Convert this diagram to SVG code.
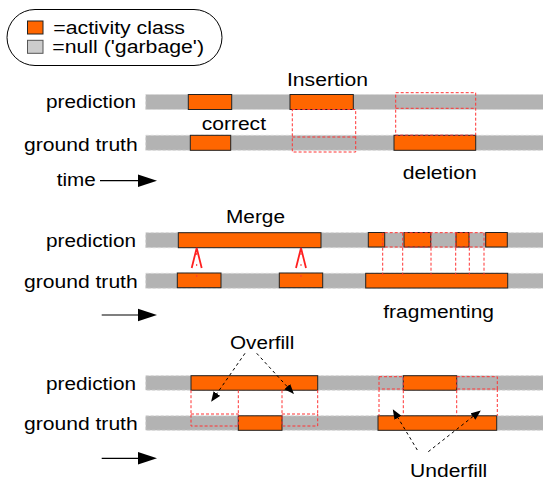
<svg xmlns="http://www.w3.org/2000/svg" width="543" height="481" viewBox="0 0 543 481">
<defs>
<style>
text{font-family:"Liberation Sans",Arial,sans-serif;font-size:17.5px;fill:#000}
.bar{fill:#b3b3b3;stroke:#d6d6d6;stroke-width:1;stroke-dasharray:3,2}
.act{fill:#ff6600;stroke:#222;stroke-width:1}
.red{fill:none;stroke:#ff3333;stroke-width:1;stroke-dasharray:3,2}
.stem{fill:none;stroke:#ff3333;stroke-width:1;stroke-dasharray:2,9}
.ax{stroke:#000;stroke-width:1.2;fill:none}
.dash{stroke:#000;stroke-width:1;stroke-dasharray:3,3;fill:none}
.merge{stroke:#ff2020;stroke-width:1.8;fill:none}
</style>
<marker id="ah" markerUnits="userSpaceOnUse" markerWidth="10" markerHeight="8" refX="9" refY="4" orient="auto">
<path d="M0,0 L10,4 L0,8 z" fill="#000"/>
</marker>
</defs>
<rect width="543" height="481" fill="#fff"/>

<g id="legend">
<rect x="7" y="9.5" width="215" height="56" rx="28" ry="28" fill="#fff" stroke="#000" stroke-width="1"/>
<rect x="27.5" y="21" width="15.5" height="13" fill="#ff6600" stroke="#222"/>
<rect x="27.5" y="40.3" width="15.5" height="13" fill="#cccccc" stroke="#555"/>
<text x="53.3" y="34" textLength="131.7" lengthAdjust="spacingAndGlyphs">=activity class</text>
<text x="52.3" y="53.3" textLength="151.7" lengthAdjust="spacingAndGlyphs">=null ('garbage')</text>
</g>

<g id="section1">
<g id="s1-labels">
<text x="46" y="108.3" textLength="90" lengthAdjust="spacingAndGlyphs">prediction</text>
<text x="24" y="150.5" textLength="113.7" lengthAdjust="spacingAndGlyphs">ground truth</text>
<text x="56.7" y="186" textLength="39" lengthAdjust="spacingAndGlyphs">time</text>
<text x="287" y="85.7" textLength="81" lengthAdjust="spacingAndGlyphs">Insertion</text>
<text x="201.7" y="130.3" textLength="64.3" lengthAdjust="spacingAndGlyphs">correct</text>
<text x="402.7" y="179" textLength="74" lengthAdjust="spacingAndGlyphs">deletion</text>
</g>
<g id="s1-pred">
<rect class="bar" x="145.7" y="94.5" width="400" height="15"/>
<rect class="act" x="188.3" y="94.5" width="43.4" height="15"/>
<rect class="act" x="290" y="94.5" width="63.3" height="15"/>
</g>
<g id="s1-gt">
<rect class="bar" x="145.7" y="135.3" width="400" height="15"/>
<rect class="act" x="190.3" y="135.3" width="40.4" height="15"/>
<rect class="act" x="394" y="135.3" width="81.7" height="15"/>
</g>
</g>

<g id="section2">
<g id="s2-labels">
<text x="46" y="247" textLength="90" lengthAdjust="spacingAndGlyphs">prediction</text>
<text x="24" y="288" textLength="113.7" lengthAdjust="spacingAndGlyphs">ground truth</text>
<text x="226" y="223.3" textLength="59" lengthAdjust="spacingAndGlyphs">Merge</text>
<text x="383.3" y="318" textLength="110.7" lengthAdjust="spacingAndGlyphs">fragmenting</text>
</g>
<g id="s2-pred">
<rect class="bar" x="145.7" y="232.7" width="400" height="15"/>
<rect class="act" x="178.3" y="232.7" width="142.7" height="15"/>
<rect class="act" x="368.3" y="232.5" width="16.4" height="14.5"/>
<rect class="act" x="404" y="232.5" width="26.7" height="14.5"/>
<rect class="act" x="456" y="232.5" width="13" height="14.5"/>
<rect class="act" x="485.7" y="232.5" width="21.6" height="14.5"/>
</g>
<g id="s2-gt">
<rect class="bar" x="145.7" y="273.3" width="400" height="15"/>
<rect class="act" x="177.3" y="273" width="43.7" height="14.7"/>
<rect class="act" x="279.3" y="273" width="43.4" height="14.7"/>
<rect class="act" x="365.7" y="273.3" width="142" height="14.7"/>
</g>
</g>

<g id="section3">
<g id="s3-labels">
<text x="46" y="390" textLength="90" lengthAdjust="spacingAndGlyphs">prediction</text>
<text x="24" y="430" textLength="113.7" lengthAdjust="spacingAndGlyphs">ground truth</text>
<text x="230" y="349" textLength="64.3" lengthAdjust="spacingAndGlyphs">Overfill</text>
<text x="410" y="477" textLength="77.3" lengthAdjust="spacingAndGlyphs">Underfill</text>
</g>
<g id="s3-pred">
<rect class="bar" x="145.7" y="375.7" width="400" height="14.5"/>
<rect class="act" x="191" y="375.7" width="126.7" height="14.5"/>
<rect class="act" x="403.3" y="375.7" width="53.4" height="14.5"/>
</g>
<g id="s3-gt">
<rect class="bar" x="145.7" y="415.8" width="400" height="14.5"/>
<rect class="act" x="238.3" y="415.8" width="43.7" height="14.5"/>
<rect class="act" x="378" y="415.8" width="118.7" height="14.5"/>
</g>
</g>

<g id="connectors">
<line class="ax" x1="100" y1="180.7" x2="139" y2="180.7"/>
<polygon points="138,174.5 157,180.7 138,186.9" fill="#000"/>
<line class="ax" x1="101.7" y1="315" x2="139" y2="315"/>
<polygon points="138,308.8 157,315 138,321.2" fill="#000"/>
<line class="ax" x1="101.7" y1="458.3" x2="139" y2="458.3"/>
<polygon points="138,452.1 157,458.3 138,464.5" fill="#000"/>

<rect class="red" x="395.7" y="92.7" width="80" height="42.5"/>
<line class="red" x1="395.7" y1="108.3" x2="475.7" y2="108.3"/>
<rect class="red" x="292.3" y="109.5" width="63.4" height="42.5"/>
<line class="red" x1="292.3" y1="137" x2="355.7" y2="137"/>

<line class="stem" x1="196.7" y1="277" x2="196.7" y2="249"/>
<polyline class="merge" points="191.7,268 196.7,248 201.7,268"/>
<line class="stem" x1="301" y1="277" x2="301" y2="249"/>
<polyline class="merge" points="296,268 301,248 306,268"/>

<line class="red" x1="384.7" y1="232.7" x2="484" y2="232.7"/>
<line class="red" x1="384.7" y1="247" x2="484" y2="247"/>
<line class="red" x1="382.7" y1="232.7" x2="382.7" y2="275"/>
<line class="red" x1="402.7" y1="232.7" x2="402.7" y2="275"/>
<line class="red" x1="431" y1="232.7" x2="431" y2="275"/>
<line class="red" x1="455.7" y1="232.7" x2="455.7" y2="275"/>
<line class="red" x1="469.3" y1="232.7" x2="469.3" y2="275"/>
<line class="red" x1="484" y1="232.7" x2="484" y2="275"/>

<rect class="red" x="191" y="414" width="47.3" height="12"/>
<rect class="red" x="282" y="414" width="35.7" height="12"/>
<line class="red" x1="191" y1="390.2" x2="191" y2="414"/>
<line class="red" x1="238.3" y1="390.2" x2="238.3" y2="415.8"/>
<line class="red" x1="282" y1="390.2" x2="282" y2="415.8"/>
<line class="red" x1="317.7" y1="390.2" x2="317.7" y2="414"/>

<rect class="red" x="379" y="376.7" width="24.3" height="12.3"/>
<rect class="red" x="456.7" y="376.7" width="40.6" height="12.3"/>
<line class="red" x1="379" y1="389" x2="379" y2="415.8"/>
<line class="red" x1="403.3" y1="390.2" x2="403.3" y2="415.8"/>
<line class="red" x1="456.7" y1="390.2" x2="456.7" y2="415.8"/>
<line class="red" x1="497.3" y1="389" x2="497.3" y2="415.8"/>

<line class="dash" x1="245" y1="353.3" x2="211.7" y2="401" marker-end="url(#ah)"/>
<line class="dash" x1="256.7" y1="353.3" x2="293.3" y2="393.3" marker-end="url(#ah)"/>
<line class="dash" x1="417.3" y1="450" x2="393.3" y2="410" marker-end="url(#ah)"/>
<line class="dash" x1="428.3" y1="451.7" x2="480" y2="411" marker-end="url(#ah)"/>
</g>
</svg>
